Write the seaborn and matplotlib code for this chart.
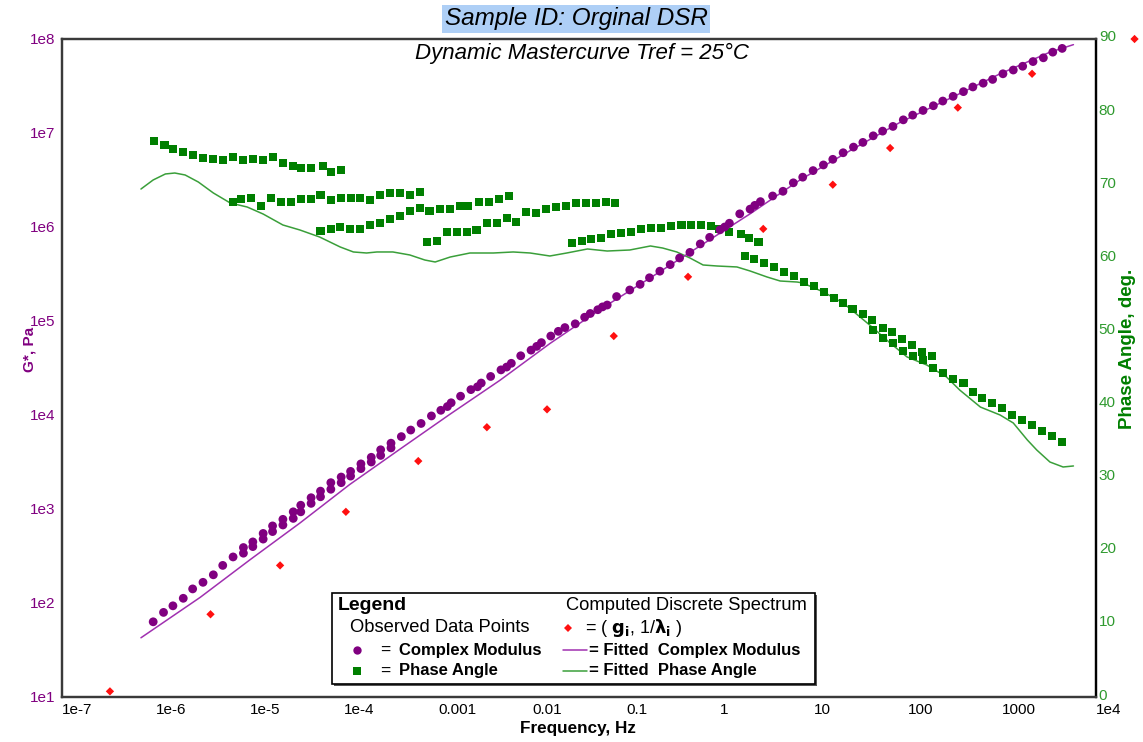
import numpy as np
import pandas as pd
import seaborn as sns
import matplotlib
matplotlib.use("Agg")
import matplotlib.pyplot as plt
import matplotlib.transforms as mtransforms
from matplotlib.patches import Rectangle
from matplotlib.lines import Line2D

# ---------------- data (log10 frequency in Hz) ----------------
# Observed complex modulus |G*|: log10(f), log10(G*/Pa)
gstar_log_freq = [
    -6.03, -5.92, -5.82, -5.71, -5.61, -5.50, -5.39, -5.29, -5.18, -5.07, -5.07,
    -4.97, -4.97, -4.86, -4.86, -4.76, -4.76, -4.65, -4.65, -4.54, -4.54, -4.46,
    -4.46, -4.35, -4.35, -4.25, -4.25, -4.14, -4.14, -4.03, -4.03, -3.93, -3.93,
    -3.82, -3.82, -3.71, -3.71, -3.61, -3.61, -3.50, -3.50, -3.39, -3.29, -3.18,
    -3.07, -2.97, -2.90, -2.86, -2.76, -2.65, -2.58, -2.54, -2.44, -2.33, -2.27,
    -2.22, -2.12, -2.01, -1.95, -1.90, -1.80, -1.72, -1.65, -1.54, -1.44, -1.38,
    -1.30, -1.25, -1.20, -1.10, -0.96, -0.85, -0.75, -0.64, -0.53, -0.43, -0.32,
    -0.21, -0.11, 0.00, 0.05, 0.10, 0.21, 0.32, 0.37, 0.43, 0.56, 0.67, 0.78,
    0.88, 0.99, 1.10, 1.20, 1.31, 1.42, 1.52, 1.63, 1.73, 1.84, 1.95, 2.05, 2.16,
    2.27, 2.37, 2.48, 2.59, 2.69, 2.80, 2.90, 3.01, 3.12, 3.22, 3.33, 3.44, 3.54,
    3.64,
]
gstar_log_pa = [
    1.80, 1.90, 1.97, 2.05, 2.15, 2.22, 2.30, 2.40, 2.49, 2.59, 2.53,
    2.65, 2.60, 2.74, 2.68, 2.82, 2.76, 2.89, 2.83, 2.97, 2.90, 3.04,
    2.97, 3.12, 3.06, 3.19, 3.13, 3.28, 3.21, 3.34, 3.28, 3.40, 3.35,
    3.48, 3.43, 3.55, 3.50, 3.63, 3.57, 3.70, 3.65, 3.77, 3.84, 3.91,
    3.99, 4.05, 4.09, 4.13, 4.20, 4.27, 4.30, 4.34, 4.41, 4.48, 4.51,
    4.55, 4.63, 4.69, 4.73, 4.77, 4.84, 4.89, 4.93, 4.97, 5.04, 5.08,
    5.12, 5.15, 5.17, 5.26, 5.33, 5.39, 5.46, 5.53, 5.60, 5.67, 5.73,
    5.82, 5.89, 5.97, 6.00, 6.04, 6.14, 6.19, 6.23, 6.27, 6.33, 6.38, 6.47,
    6.53, 6.60, 6.66, 6.72, 6.79, 6.85, 6.90, 6.97, 7.02, 7.07, 7.14, 7.19, 7.24,
    7.29, 7.34, 7.39, 7.44, 7.49, 7.53, 7.57, 7.63, 7.67, 7.71, 7.76, 7.80, 7.86,
    7.90,
]

# Fitted complex modulus curve
fit_g_log_freq = [-6.16, -5.53, -5.00, -4.47, -3.94, -3.40, -2.87, -2.34, -1.81,
                  -1.28, -0.74, -0.21, 0.32, 0.85, 1.38, 1.91, 2.45, 2.98, 3.51, 3.76]
fit_g_log_pa = [1.63, 2.06, 2.46, 2.85, 3.26, 3.64, 4.01, 4.37, 4.76,
                5.12, 5.46, 5.80, 6.14, 6.50, 6.81, 7.11, 7.37, 7.63, 7.86, 7.94]

# Observed phase angle (deg)
phase_log_freq = [
    # first temperature
    -6.02, -5.91, -5.82, -5.71, -5.61, -5.50, -5.39, -5.29, -5.18, -5.07,
    -4.97, -4.86, -4.76, -4.65, -4.54, -4.46, -4.35, -4.22, -4.14, -4.03,
    # second
    -5.18, -5.10, -4.99, -4.88, -4.78, -4.67, -4.56, -4.46, -4.35, -4.25,
    -4.14, -4.03, -3.93, -3.83, -3.72, -3.62, -3.51, -3.40, -3.30, -3.19,
    # third
    -4.25, -4.14, -4.04, -3.94, -3.83, -3.72, -3.62, -3.51, -3.40, -3.30,
    -3.19, -3.09, -2.98, -2.87, -2.77, -2.68, -2.56, -2.46, -2.35, -2.24,
    # fourth
    -3.12, -3.01, -2.90, -2.80, -2.69, -2.59, -2.48, -2.37, -2.27, -2.17,
    -2.06, -1.96, -1.85, -1.74, -1.64, -1.53, -1.43, -1.32, -1.21, -1.12,
    # fifth
    -1.57, -1.47, -1.37, -1.27, -1.16, -1.05, -0.95, -0.84, -0.73, -0.63,
    -0.52, -0.41, -0.31, -0.20, -0.10, -0.01, 0.10, 0.22, 0.31, 0.41,
    # sixth
    0.27, 0.36, 0.47, 0.57, 0.68, 0.79, 0.89, 1.00, 1.11, 1.21,
    1.31, 1.41, 1.52, 1.62, 1.73, 1.83, 1.94, 2.04, 2.15, 2.26,
    # seventh
    1.63, 1.73, 1.84, 1.95, 2.05, 2.16, 2.27, 2.37, 2.48, 2.59,
    2.69, 2.79, 2.89, 3.00, 3.11, 3.21, 3.32, 3.43, 3.53, 3.64,
]
phase_deg = [
    76.05, 75.50, 74.96, 74.55, 74.14, 73.73, 73.59, 73.45, 73.86, 73.45,
    73.59, 73.45, 73.86, 73.04, 72.63, 72.36, 72.36, 72.63, 71.81, 72.08,
    67.70, 68.10, 68.25, 67.16, 68.25, 67.70, 67.70, 68.10, 68.10, 68.66,
    67.98, 68.25, 68.25, 68.25, 67.98, 68.66, 68.94, 68.94, 68.66, 69.07,
    63.74, 64.01, 64.29, 64.01, 64.01, 64.56, 64.83, 65.38, 65.79, 66.47,
    66.88, 66.47, 66.75, 66.75, 67.16, 67.16, 67.70, 67.70, 68.10, 68.53,
    62.24, 62.37, 63.60, 63.60, 63.60, 63.88, 64.83, 64.83, 65.52, 64.97,
    66.34, 66.20, 66.75, 67.02, 67.16, 67.57, 67.57, 67.57, 67.71, 67.57,
    62.10, 62.37, 62.65, 62.78, 63.33, 63.47, 63.60, 64.01, 64.15, 64.15,
    64.42, 64.56, 64.56, 64.56, 64.42, 64.01, 63.60, 63.33, 62.78, 62.24,
    60.32, 59.91, 59.36, 58.82, 58.13, 57.58, 56.76, 56.22, 55.40, 54.58,
    53.89, 53.07, 52.39, 51.57, 50.47, 49.93, 48.97, 48.15, 47.19, 46.64,
    50.20, 49.11, 48.42, 47.33, 46.64, 46.10, 45.00, 44.32, 43.50, 42.95,
    41.72, 40.90, 40.21, 39.53, 38.57, 37.89, 37.20, 36.38, 35.70, 34.88,
]

# Fitted phase angle curve
fit_phase_log_freq = [
    -6.16, -6.03, -5.90, -5.80, -5.69, -5.55, -5.39, -5.21, -5.03, -4.86,
    -4.65, -4.47, -4.26, -4.04, -3.90, -3.76, -3.65, -3.48, -3.30, -3.14,
    -3.03, -2.87, -2.66, -2.41, -2.20, -2.02, -1.81, -1.63, -1.41, -1.20,
    -0.96, -0.74, -0.61, -0.46, -0.32, -0.18, -0.03, 0.18, 0.32, 0.50,
    0.64, 0.82, 0.88, 1.10, 1.31, 1.49, 1.63, 1.81, 1.99, 2.20,
    2.41, 2.55, 2.77, 2.98, 3.12, 3.27, 3.37, 3.51, 3.65, 3.76,
]
fit_phase_deg = [
    69.48, 70.72, 71.54, 71.67, 71.40, 70.44, 68.94, 67.57, 67.02, 66.06,
    64.56, 63.88, 62.92, 61.55, 60.87, 60.73, 60.87, 60.87, 60.46, 59.77,
    59.50, 60.18, 60.73, 60.73, 60.87, 60.73, 60.32, 60.73, 61.28, 61.00,
    61.14, 61.69, 61.41, 60.87, 60.05, 59.09, 58.95, 58.82, 58.27, 57.45,
    56.90, 56.76, 56.63, 55.40, 53.89, 51.98, 50.47, 48.42, 46.51, 45.41,
    43.77, 41.99, 39.66, 38.57, 37.48, 35.15, 33.78, 32.14, 31.46, 31.60,
]

# Computed discrete relaxation spectrum (g_i, 1/lambda_i)
spectrum_log_inv_lambda = [-6.49, -5.42, -4.68, -3.98, -3.21, -2.48, -1.84, -1.13,
                           -0.34, 0.46, 1.20, 1.81, 2.53, 3.32, 4.41]
spectrum_log_g = [1.06, 1.88, 2.40, 2.97, 3.51, 3.87, 4.06, 4.84,
                  5.47, 5.98, 6.45, 6.84, 7.27, 7.63, 8.00]

x_tick_values = [1e-7, 1e-6, 1e-5, 1e-4, 1e-3, 1e-2, 1e-1, 1, 10, 100, 1000, 1e4]
x_tick_labels = ["1e-7", "1e-6", "1e-5", "1e-4", "0.001", "0.01", "0.1", "1",
                 "10", "100", "1000", "1e4"]
g_tick_values = [1e1, 1e2, 1e3, 1e4, 1e5, 1e6, 1e7, 1e8]
g_tick_labels = ["1e1", "1e2", "1e3", "1e4", "1e5", "1e6", "1e7", "1e8"]
phase_ticks = list(range(0, 91, 10))

# ---------------- frames ----------------
gstar = pd.DataFrame({"freq": np.power(10.0, gstar_log_freq),
                      "G": np.power(10.0, gstar_log_pa)})
gfit = pd.DataFrame({"freq": np.power(10.0, fit_g_log_freq),
                     "G": np.power(10.0, fit_g_log_pa)})
phase = pd.DataFrame({"freq": np.power(10.0, phase_log_freq), "delta": phase_deg})
pfit = pd.DataFrame({"freq": np.power(10.0, fit_phase_log_freq), "delta": fit_phase_deg})
spectrum = pd.DataFrame({"freq": np.power(10.0, spectrum_log_inv_lambda),
                         "G": np.power(10.0, spectrum_log_g)})

# ---------------- style ----------------
sns.set_style("white")
plt.rcParams["font.family"] = ["Liberation Sans", "DejaVu Sans"]
plt.rcParams["mathtext.fontset"] = "dejavusans"

PURPLE = "#800080"
PURPLE_LINE = "#a030b0"
GREEN = "#007f00"
GREEN_LINE = "#3a9f3a"
GREEN_TEXT = "#2f9a2f"
RED = "#ff1010"
SPINE = "#3a3a3a"

W, H = 1143, 742
fig = plt.figure(figsize=(W / 100, H / 100), dpi=100)
L, R, T, B = 62, 1096, 39, 697
ax = fig.add_axes([L / W, 1 - B / H, (R - L) / W, (B - T) / H])
ax2 = ax.twinx()

# ---------------- phase angle (right axis) ----------------
sns.lineplot(data=pfit, x="freq", y="delta", ax=ax2, color=GREEN_LINE,
             linewidth=1.1, sort=False, estimator=None, zorder=2)
sns.scatterplot(data=phase, x="freq", y="delta", ax=ax2, marker="s", s=34,
                color=GREEN, edgecolor="none", linewidth=0, zorder=3)

# ---------------- complex modulus (left axis) ----------------
ax.set_zorder(ax2.get_zorder() + 1)
ax.patch.set_visible(False)
sns.lineplot(data=gfit, x="freq", y="G", ax=ax, color=PURPLE_LINE,
             linewidth=1.1, sort=False, estimator=None, zorder=2)
sns.scatterplot(data=gstar, x="freq", y="G", ax=ax, marker="o", s=40,
                color=PURPLE, edgecolor="none", linewidth=0, zorder=3)
sns.scatterplot(data=spectrum, x="freq", y="G", ax=ax, marker="D", s=18,
                color=RED, edgecolor="none", linewidth=0, zorder=4, clip_on=False)

# ---------------- axes ----------------
for a in (ax, ax2):
    a.set_xscale("log")
    a.set_xlim(1e-7, 1e4)
    a.set_xlabel("")
    a.set_ylabel("")
    a.grid(False)
ax.set_yscale("log")
ax.set_ylim(1e1, 1e8)
ax2.set_ylim(0, 90)

ax.set_xticks(x_tick_values)
ax.set_xticklabels(x_tick_labels, ha="left")
ax.xaxis.set_minor_locator(matplotlib.ticker.NullLocator())
ax.set_yticks(g_tick_values)
ax.set_yticklabels(g_tick_labels)
ax.yaxis.set_minor_locator(matplotlib.ticker.NullLocator())
ax2.set_yticks(phase_ticks)
ax2.set_yticklabels([str(t) for t in phase_ticks])

ax.tick_params(axis="x", length=0, pad=4, labelsize=11, labelcolor="black")
ax.tick_params(axis="y", length=0, pad=5, labelsize=11, labelcolor=PURPLE)
ax2.tick_params(axis="y", length=0, pad=2, labelsize=11, labelcolor=GREEN_TEXT)
ax2.tick_params(axis="x", length=0)

# right-hand labels sit a few pixels above their grid value
lift = mtransforms.ScaledTranslation(0, 3 / 100, fig.dpi_scale_trans)
for lab in ax2.get_yticklabels():
    lab.set_transform(lab.get_transform() + lift)

for a in (ax, ax2):
    for side in ("left", "bottom", "top"):
        a.spines[side].set_color(SPINE)
        a.spines[side].set_linewidth(1.6)
    a.spines["right"].set_color("black")
    a.spines["right"].set_linewidth(1.6)

# axis titles
ax.text((30 - L) / (R - L), (B - 349) / (B - T), "G*, Pa", transform=ax.transAxes,
        rotation=90, ha="center", va="center", color=PURPLE, fontsize=11,
        fontweight="bold", clip_on=False)
ax.text((1128 - L) / (R - L), (B - 349) / (B - T), "Phase Angle, deg.",
        transform=ax.transAxes, rotation=90, ha="center", va="center",
        color=GREEN, fontsize=13.5, fontweight="bold", clip_on=False)
ax.text((578 - L) / (R - L), (B - 729) / (B - T), "Frequency, Hz",
        transform=ax.transAxes, ha="center", va="center", color="black",
        fontsize=12.3, fontweight="bold")


def px(x, y):
    """pixel position (origin top-left) -> figure fraction"""
    return x / W, 1 - y / H


# titles
fig.text(*px(576, 19), "Sample ID: Orginal DSR", ha="center", va="center",
         fontsize=17.5, style="italic", color="black",
         bbox=dict(boxstyle="square,pad=0.1", facecolor="#aecff6", edgecolor="none"))
fig.text(*px(582, 53), "Dynamic Mastercurve Tref = 25°C", ha="center", va="center",
         fontsize=16, style="italic", color="black", zorder=6)

# ---------------- legend panel ----------------
lx0, ly0, lx1, ly1 = 332, 593, 815, 684
fig.add_artist(Rectangle(px(lx0 + 2, ly1 + 2), (lx1 - lx0) / W, (ly1 - ly0) / H,
                         transform=fig.transFigure, facecolor="#555555",
                         edgecolor="none", zorder=5))
fig.add_artist(Rectangle(px(lx0, ly1), (lx1 - lx0) / W, (ly1 - ly0) / H,
                         transform=fig.transFigure, facecolor="white",
                         edgecolor="black", linewidth=1.2, zorder=6))

lkw = dict(ha="left", va="center", color="black", zorder=7)
fig.text(*px(338, 605), "Legend", fontweight="bold", fontsize=14, **lkw)
fig.text(*px(350, 627), "Observed Data Points", fontsize=13.2, **lkw)
fig.text(*px(380, 650), "=", fontsize=12.5, **lkw)
fig.text(*px(399, 650), "Complex Modulus", fontweight="bold", fontsize=12, **lkw)
fig.text(*px(380, 671), "=", fontsize=12.5, **lkw)
fig.text(*px(399, 671), "Phase Angle", fontweight="bold", fontsize=12, **lkw)
fig.text(*px(566, 605), "Computed Discrete Spectrum", fontsize=13.2, **lkw)
fig.text(*px(585, 628), r"= ( $\mathbf{g_i}$, 1/$\mathbf{\lambda_i}$ )",
         fontsize=13, **lkw)
fig.text(*px(589, 650), "= Fitted  Complex Modulus", fontweight="bold",
         fontsize=12, **lkw)
fig.text(*px(589, 671), "= Fitted  Phase Angle", fontweight="bold", fontsize=12,
         **lkw)

for (x, y, m, c, s) in [(357, 650, "o", PURPLE, 6), (357, 671, "s", GREEN, 5.5),
                        (568, 628, "D", RED, 4)]:
    fig.add_artist(Line2D([x / W], [1 - y / H], transform=fig.transFigure,
                          marker=m, color=c, markersize=s, markeredgewidth=0,
                          linestyle="none", zorder=7))
for (y, c) in [(650, PURPLE_LINE), (671, GREEN_LINE)]:
    fig.add_artist(Line2D([563 / W, 587 / W], [1 - y / H, 1 - y / H],
                          transform=fig.transFigure, color=c, linewidth=1.1,
                          zorder=7))

fig.savefig("out.png", dpi=100)
